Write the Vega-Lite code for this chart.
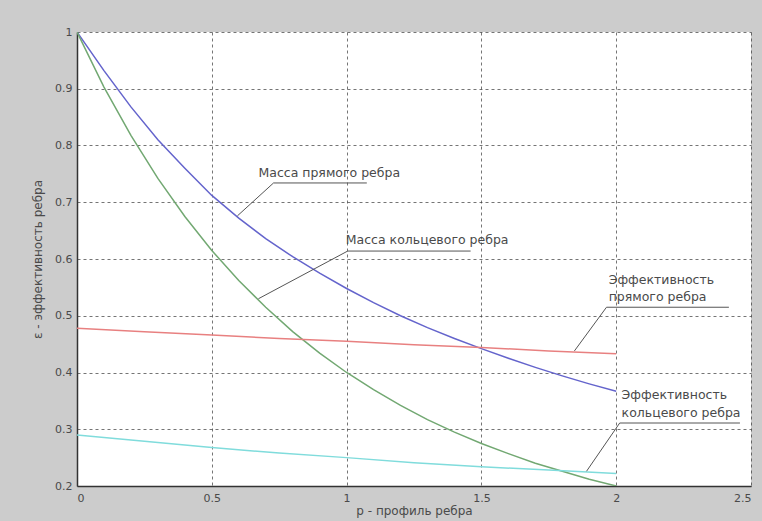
{
  "$schema": "https://vega.github.io/schema/vega-lite/v6.json",
  "autosize": {"type": "none"},
  "width": 674,
  "height": 454,
  "padding": {"left": 77, "top": 32, "right": 11, "bottom": 35},
  "background": "#cccccc",
  "config": {
    "view": {"fill": "white", "stroke": null},
    "font": "DejaVu Sans",
    "axis": {
      "grid": true,
      "gridColor": "#3a3a3a",
      "gridDash": [3, 3],
      "gridWidth": 1,
      "gridOpacity": 0.7,
      "ticks": false,
      "labelFont": "DejaVu Sans",
      "labelFontSize": 11,
      "labelColor": "#4a4a4a",
      "titleFont": "DejaVu Sans",
      "titleFontSize": 12,
      "titleFontWeight": "normal",
      "titleColor": "#4a4a4a",
      "domainColor": "#333333",
      "domainWidth": 1.5
    }
  },
  "datasets": {
    "curves": [
      {"p": 0.0, "v": 1.000, "s": "mass_straight"},
      {"p": 0.1, "v": 0.932, "s": "mass_straight"},
      {"p": 0.2, "v": 0.868, "s": "mass_straight"},
      {"p": 0.3, "v": 0.810, "s": "mass_straight"},
      {"p": 0.4, "v": 0.760, "s": "mass_straight"},
      {"p": 0.5, "v": 0.712, "s": "mass_straight"},
      {"p": 0.6, "v": 0.672, "s": "mass_straight"},
      {"p": 0.7, "v": 0.636, "s": "mass_straight"},
      {"p": 0.8, "v": 0.604, "s": "mass_straight"},
      {"p": 0.9, "v": 0.575, "s": "mass_straight"},
      {"p": 1.0, "v": 0.548, "s": "mass_straight"},
      {"p": 1.1, "v": 0.523, "s": "mass_straight"},
      {"p": 1.2, "v": 0.500, "s": "mass_straight"},
      {"p": 1.3, "v": 0.479, "s": "mass_straight"},
      {"p": 1.4, "v": 0.460, "s": "mass_straight"},
      {"p": 1.5, "v": 0.442, "s": "mass_straight"},
      {"p": 1.6, "v": 0.425, "s": "mass_straight"},
      {"p": 1.7, "v": 0.409, "s": "mass_straight"},
      {"p": 1.8, "v": 0.394, "s": "mass_straight"},
      {"p": 1.9, "v": 0.380, "s": "mass_straight"},
      {"p": 2.0, "v": 0.367, "s": "mass_straight"},
      {"p": 0.0, "v": 1.000, "s": "mass_annular"},
      {"p": 0.1, "v": 0.903, "s": "mass_annular"},
      {"p": 0.2, "v": 0.818, "s": "mass_annular"},
      {"p": 0.3, "v": 0.742, "s": "mass_annular"},
      {"p": 0.4, "v": 0.675, "s": "mass_annular"},
      {"p": 0.5, "v": 0.615, "s": "mass_annular"},
      {"p": 0.6, "v": 0.562, "s": "mass_annular"},
      {"p": 0.7, "v": 0.515, "s": "mass_annular"},
      {"p": 0.8, "v": 0.472, "s": "mass_annular"},
      {"p": 0.9, "v": 0.434, "s": "mass_annular"},
      {"p": 1.0, "v": 0.400, "s": "mass_annular"},
      {"p": 1.1, "v": 0.370, "s": "mass_annular"},
      {"p": 1.2, "v": 0.342, "s": "mass_annular"},
      {"p": 1.3, "v": 0.317, "s": "mass_annular"},
      {"p": 1.4, "v": 0.295, "s": "mass_annular"},
      {"p": 1.5, "v": 0.275, "s": "mass_annular"},
      {"p": 1.6, "v": 0.257, "s": "mass_annular"},
      {"p": 1.7, "v": 0.240, "s": "mass_annular"},
      {"p": 1.8, "v": 0.226, "s": "mass_annular"},
      {"p": 1.9, "v": 0.212, "s": "mass_annular"},
      {"p": 2.0, "v": 0.200, "s": "mass_annular"},
      {"p": 0.0, "v": 0.478, "s": "eff_straight"},
      {"p": 0.25, "v": 0.472, "s": "eff_straight"},
      {"p": 0.5, "v": 0.466, "s": "eff_straight"},
      {"p": 0.75, "v": 0.460, "s": "eff_straight"},
      {"p": 1.0, "v": 0.455, "s": "eff_straight"},
      {"p": 1.25, "v": 0.449, "s": "eff_straight"},
      {"p": 1.5, "v": 0.444, "s": "eff_straight"},
      {"p": 1.75, "v": 0.438, "s": "eff_straight"},
      {"p": 2.0, "v": 0.433, "s": "eff_straight"},
      {"p": 0.0, "v": 0.290, "s": "eff_annular"},
      {"p": 0.25, "v": 0.279, "s": "eff_annular"},
      {"p": 0.5, "v": 0.268, "s": "eff_annular"},
      {"p": 0.75, "v": 0.258, "s": "eff_annular"},
      {"p": 1.0, "v": 0.250, "s": "eff_annular"},
      {"p": 1.25, "v": 0.241, "s": "eff_annular"},
      {"p": 1.5, "v": 0.234, "s": "eff_annular"},
      {"p": 1.75, "v": 0.228, "s": "eff_annular"},
      {"p": 2.0, "v": 0.222, "s": "eff_annular"}
    ],
    "leaders": [
      {"seg": "a1", "k": 0, "p": 0.595, "v": 0.676},
      {"seg": "a1", "k": 1, "p": 0.729, "v": 0.734},
      {"seg": "a1", "k": 2, "p": 1.075, "v": 0.734},
      {"seg": "a2", "k": 0, "p": 0.673, "v": 0.530},
      {"seg": "a2", "k": 1, "p": 1.004, "v": 0.614},
      {"seg": "a2", "k": 2, "p": 1.460, "v": 0.614},
      {"seg": "a3", "k": 0, "p": 1.845, "v": 0.438},
      {"seg": "a3", "k": 1, "p": 1.964, "v": 0.515},
      {"seg": "a3", "k": 2, "p": 2.418, "v": 0.515},
      {"seg": "a4", "k": 0, "p": 1.890, "v": 0.226},
      {"seg": "a4", "k": 1, "p": 2.013, "v": 0.311},
      {"seg": "a4", "k": 2, "p": 2.459, "v": 0.311}
    ],
    "labels": [
      {"p": 0.673, "v": 0.7515, "t": "Масса прямого ребра"},
      {"p": 0.997, "v": 0.6335, "t": "Масса кольцевого ребра"},
      {"p": 1.972, "v": 0.563, "t": "Эффективность"},
      {"p": 1.972, "v": 0.533, "t": "прямого ребра"},
      {"p": 2.020, "v": 0.360, "t": "Эффективность"},
      {"p": 2.020, "v": 0.3286, "t": "кольцевого ребра"}
    ]
  },
  "layer": [
    {
      "data": {"name": "curves"},
      "mark": {"type": "line", "strokeWidth": 1.5, "clip": true},
      "encoding": {
        "x": {
          "field": "p",
          "type": "quantitative",
          "scale": {"domain": [0, 2.5], "nice": false, "zero": false},
          "axis": {
            "values": [0, 0.5, 1, 1.5, 2, 2.5],
            "format": "~g",
            "title": "p - профиль ребра",
            "labelPadding": 6,
            "titlePadding": 2
          }
        },
        "y": {
          "field": "v",
          "type": "quantitative",
          "scale": {"domain": [0.2, 1], "nice": false, "zero": false},
          "axis": {
            "values": [0.2, 0.3, 0.4, 0.5, 0.6, 0.7, 0.8, 0.9, 1],
            "format": "~g",
            "title": "ε - эффективность ребра",
            "labelPadding": 5,
            "titlePadding": 10
          }
        },
        "color": {
          "field": "s",
          "type": "nominal",
          "scale": {
            "domain": ["mass_straight", "mass_annular", "eff_straight", "eff_annular"],
            "range": ["#6464cc", "#72a872", "#e88080", "#80dcdc"]
          },
          "legend": null
        }
      }
    },
    {
      "data": {"name": "leaders"},
      "mark": {"type": "line", "color": "#555555", "strokeWidth": 1},
      "encoding": {
        "x": {"field": "p", "type": "quantitative"},
        "y": {"field": "v", "type": "quantitative"},
        "detail": {"field": "seg", "type": "nominal"},
        "order": {"field": "k", "type": "quantitative"}
      }
    },
    {
      "data": {"name": "labels"},
      "mark": {
        "type": "text",
        "align": "left",
        "baseline": "middle",
        "font": "DejaVu Sans",
        "fontSize": 12.5,
        "color": "#4a4a4a"
      },
      "encoding": {
        "x": {"field": "p", "type": "quantitative"},
        "y": {"field": "v", "type": "quantitative"},
        "text": {"field": "t", "type": "nominal"}
      }
    }
  ]
}
